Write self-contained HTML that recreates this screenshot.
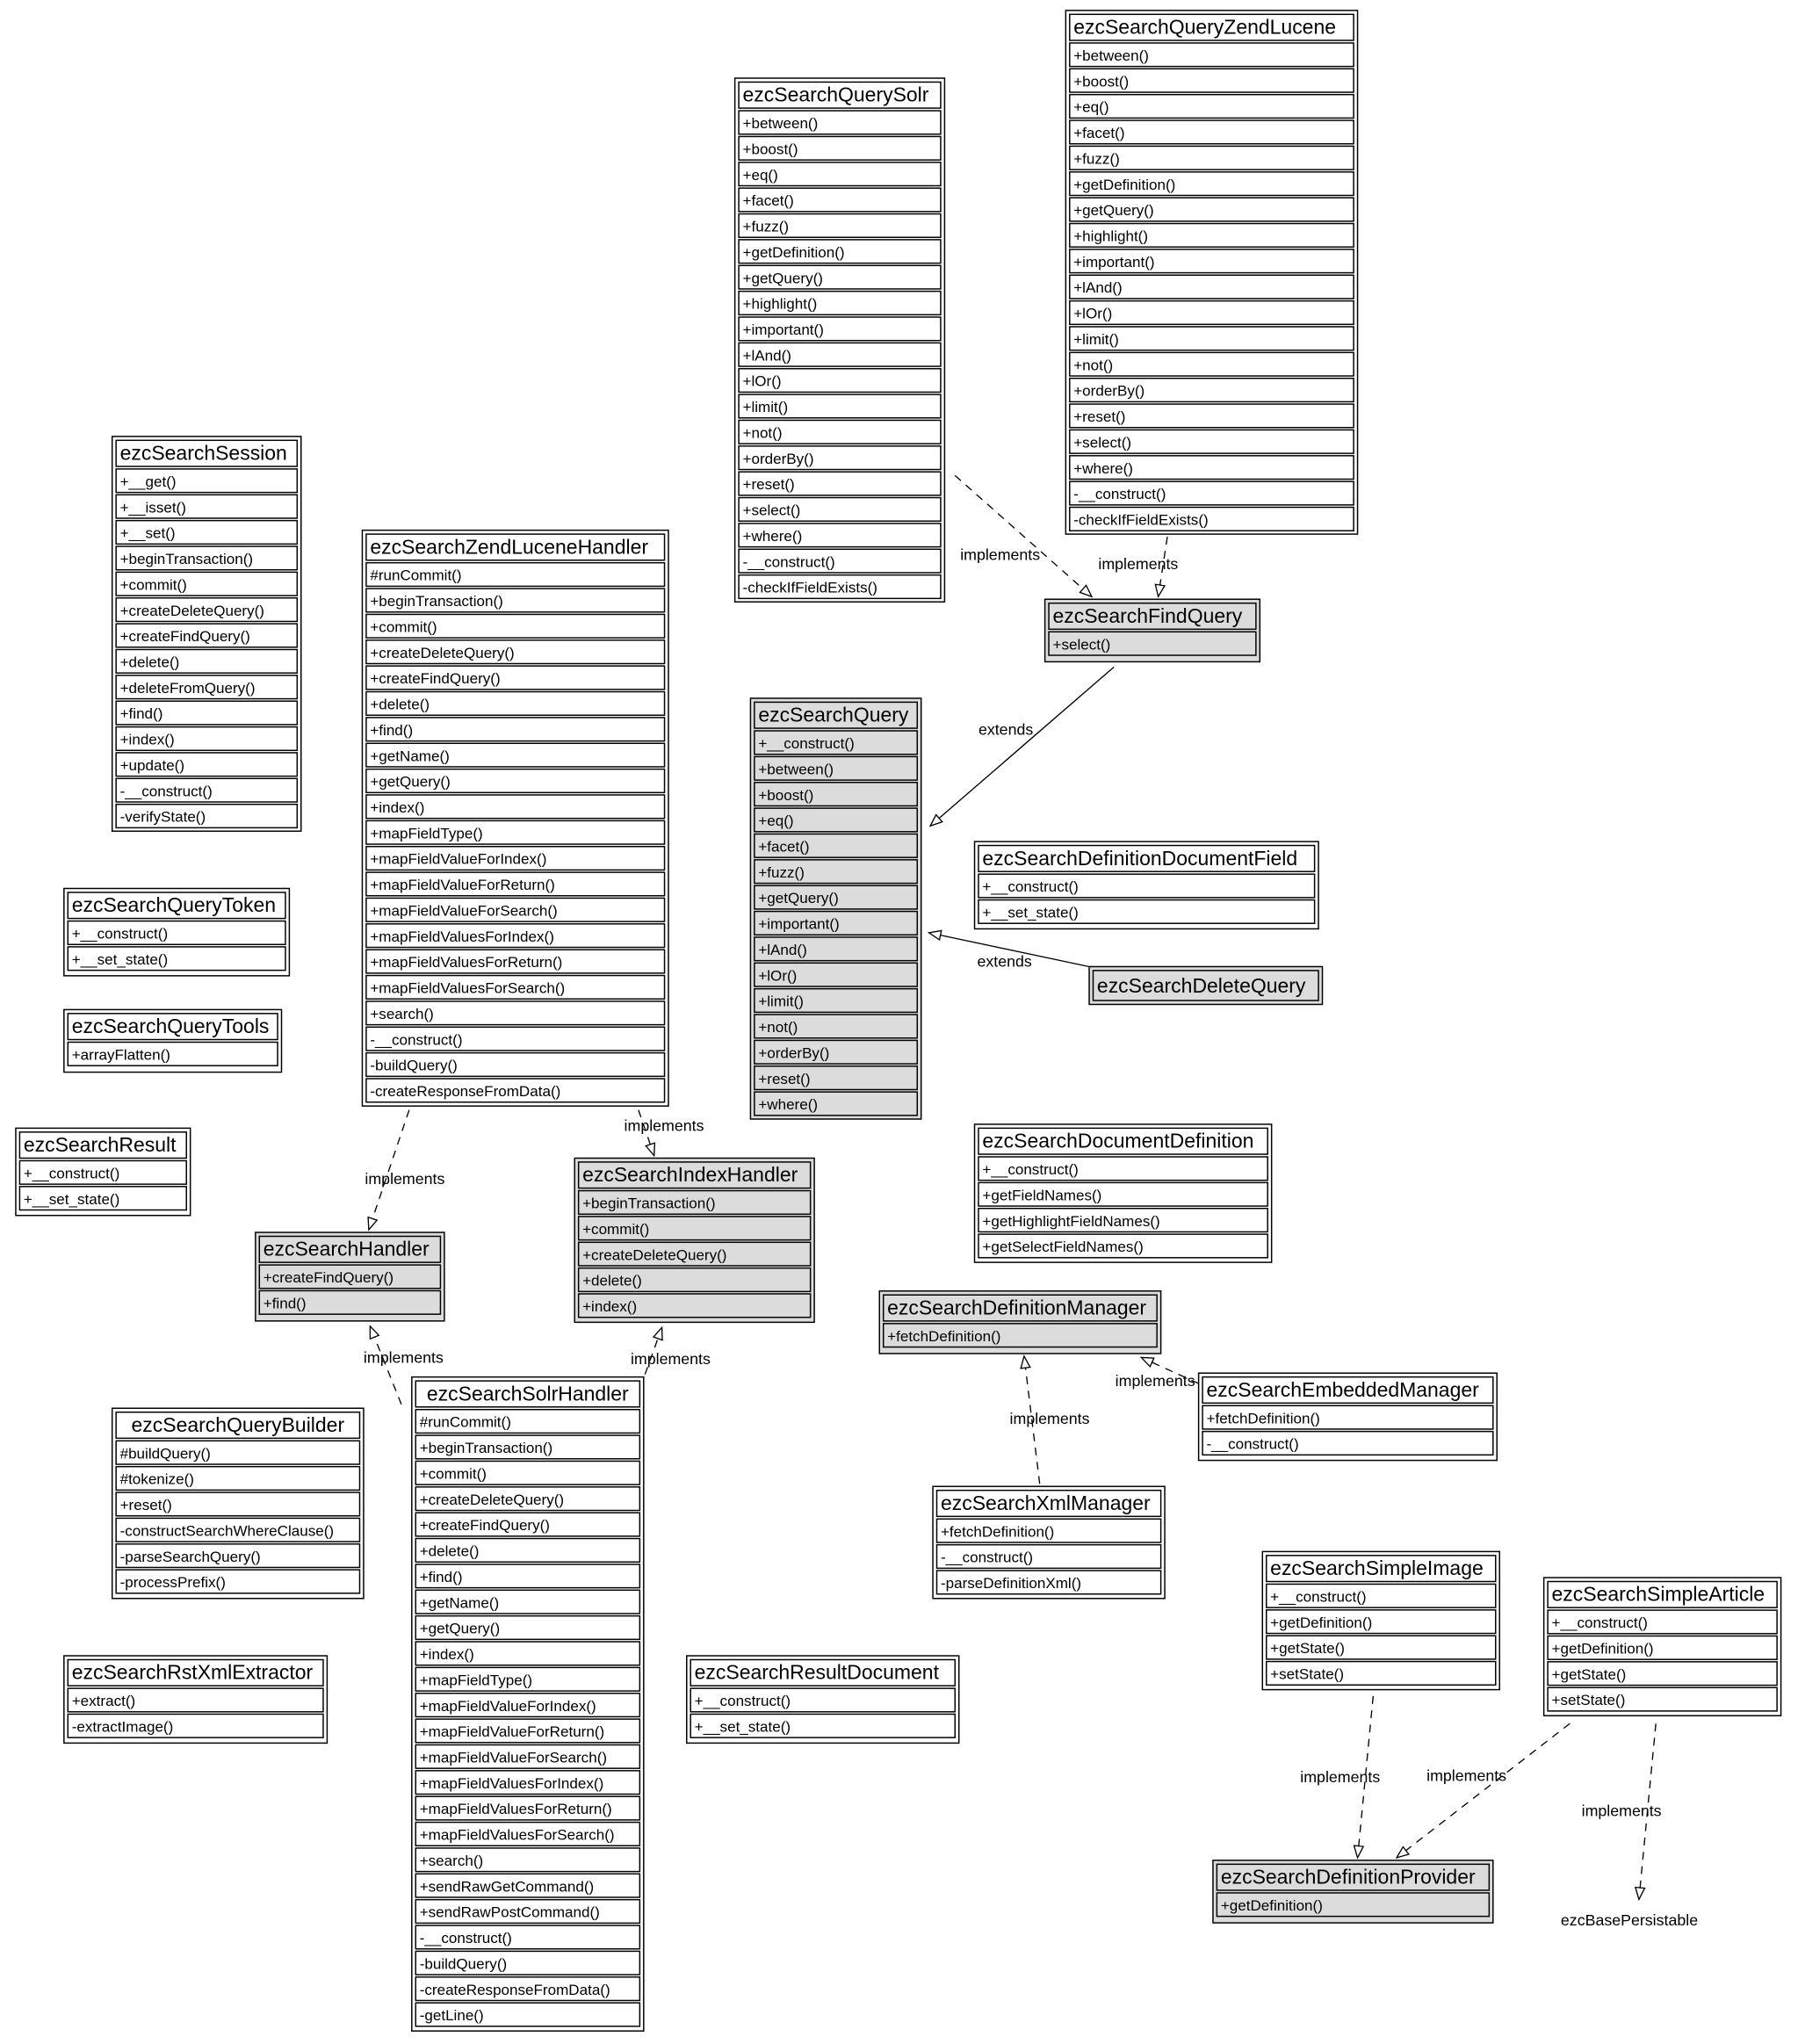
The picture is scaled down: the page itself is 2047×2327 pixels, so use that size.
<!DOCTYPE html>
<html><head><meta charset="utf-8"><style>
html,body{margin:0;padding:0;background:#fff;}
svg{display:block;}
text{font-family:"Liberation Sans",Arial,sans-serif;fill:#000;}
.h{font-size:15.5px;}
.m{font-size:11.5px;}
.l{font-size:12px;}
.o{fill:#fff;stroke:#000;stroke-width:1;}
.g .o{fill:#dcdcdc;}
.r{fill:#fff;stroke:#000;stroke-width:1;}
.g .r{fill:#dcdcdc;}
.e{fill:none;stroke:#000;stroke-width:0.9;}
.d{stroke-dasharray:6,5;}
</style></head><body>
<svg width="2047" height="2327" viewBox="0 0 1380 1569" xmlns="http://www.w3.org/2000/svg">
<defs><marker id="t" viewBox="0 0 12 10" refX="11" refY="5" markerWidth="11" markerHeight="9" orient="auto" markerUnits="userSpaceOnUse"><path d="M1,1 L11,5 L1,9 Z" fill="#fff" stroke="#000" stroke-width="1"/></marker></defs>

<!-- edges -->
<line class="e d" x1="733" y1="365" x2="838" y2="458" marker-end="url(#t)"/>
<line class="e d" x1="896" y1="412" x2="889" y2="458" marker-end="url(#t)"/>
<line class="e" x1="855" y1="512" x2="714" y2="634" marker-end="url(#t)"/>
<line class="e" x1="836" y1="742" x2="713" y2="716" marker-end="url(#t)"/>
<line class="e d" x1="314" y1="852" x2="283" y2="944" marker-end="url(#t)"/>
<line class="e d" x1="490" y1="852" x2="502" y2="887" marker-end="url(#t)"/>
<line class="e d" x1="308" y1="1078" x2="284" y2="1018" marker-end="url(#t)"/>
<line class="e d" x1="495" y1="1055" x2="508" y2="1019" marker-end="url(#t)"/>
<line class="e d" x1="798" y1="1139" x2="786" y2="1041" marker-end="url(#t)"/>
<line class="e d" x1="920" y1="1062" x2="876" y2="1042" marker-end="url(#t)"/>
<line class="e d" x1="1054" y1="1302" x2="1042" y2="1426" marker-end="url(#t)"/>
<line class="e d" x1="1205" y1="1323" x2="1072" y2="1426" marker-end="url(#t)"/>
<line class="e d" x1="1271" y1="1323" x2="1258" y2="1458" marker-end="url(#t)"/>
<text class="l" x="737" y="430">implements</text>
<text class="l" x="843" y="437">implements</text>
<text class="l" x="751" y="564">extends</text>
<text class="l" x="750" y="742">extends</text>
<text class="l" x="280" y="909">implements</text>
<text class="l" x="479" y="868">implements</text>
<text class="l" x="279" y="1046">implements</text>
<text class="l" x="484" y="1047">implements</text>
<text class="l" x="775" y="1093">implements</text>
<text class="l" x="856" y="1064">implements</text>
<text class="l" x="998" y="1368">implements</text>
<text class="l" x="1095" y="1367">implements</text>
<text class="l" x="1214" y="1394">implements</text>
<text class="l" x="1198" y="1478">ezcBasePersistable</text>

<!-- ezcSearchQueryZendLucene -->
<g transform="translate(818,8)"><rect class="o" x="0" y="0" width="224" height="402"/><rect class="r" x="3" y="3" width="218" height="20"/><text class="h" x="6" y="18">ezcSearchQueryZendLucene</text>
<rect class="r" x="3" y="25" width="218" height="18"/><text class="m" x="6" y="38.5">+between()</text>
<rect class="r" x="3" y="44.8" width="218" height="18"/><text class="m" x="6" y="58.3">+boost()</text>
<rect class="r" x="3" y="64.6" width="218" height="18"/><text class="m" x="6" y="78.1">+eq()</text>
<rect class="r" x="3" y="84.4" width="218" height="18"/><text class="m" x="6" y="97.9">+facet()</text>
<rect class="r" x="3" y="104.2" width="218" height="18"/><text class="m" x="6" y="117.7">+fuzz()</text>
<rect class="r" x="3" y="124" width="218" height="18"/><text class="m" x="6" y="137.5">+getDefinition()</text>
<rect class="r" x="3" y="143.8" width="218" height="18"/><text class="m" x="6" y="157.3">+getQuery()</text>
<rect class="r" x="3" y="163.6" width="218" height="18"/><text class="m" x="6" y="177.1">+highlight()</text>
<rect class="r" x="3" y="183.4" width="218" height="18"/><text class="m" x="6" y="196.9">+important()</text>
<rect class="r" x="3" y="203.2" width="218" height="18"/><text class="m" x="6" y="216.7">+lAnd()</text>
<rect class="r" x="3" y="223" width="218" height="18"/><text class="m" x="6" y="236.5">+lOr()</text>
<rect class="r" x="3" y="242.8" width="218" height="18"/><text class="m" x="6" y="256.3">+limit()</text>
<rect class="r" x="3" y="262.6" width="218" height="18"/><text class="m" x="6" y="276.1">+not()</text>
<rect class="r" x="3" y="282.4" width="218" height="18"/><text class="m" x="6" y="295.9">+orderBy()</text>
<rect class="r" x="3" y="302.2" width="218" height="18"/><text class="m" x="6" y="315.7">+reset()</text>
<rect class="r" x="3" y="322" width="218" height="18"/><text class="m" x="6" y="335.5">+select()</text>
<rect class="r" x="3" y="341.8" width="218" height="18"/><text class="m" x="6" y="355.3">+where()</text>
<rect class="r" x="3" y="361.6" width="218" height="18"/><text class="m" x="6" y="375.1">-__construct()</text>
<rect class="r" x="3" y="381.4" width="218" height="18"/><text class="m" x="6" y="394.9">-checkIfFieldExists()</text></g>

<!-- ezcSearchQuerySolr -->
<g transform="translate(564,60)"><rect class="o" x="0" y="0" width="161" height="402"/><rect class="r" x="3" y="3" width="155" height="20"/><text class="h" x="6" y="18">ezcSearchQuerySolr</text>
<rect class="r" x="3" y="25" width="155" height="18"/><text class="m" x="6" y="38.5">+between()</text>
<rect class="r" x="3" y="44.8" width="155" height="18"/><text class="m" x="6" y="58.3">+boost()</text>
<rect class="r" x="3" y="64.6" width="155" height="18"/><text class="m" x="6" y="78.1">+eq()</text>
<rect class="r" x="3" y="84.4" width="155" height="18"/><text class="m" x="6" y="97.9">+facet()</text>
<rect class="r" x="3" y="104.2" width="155" height="18"/><text class="m" x="6" y="117.7">+fuzz()</text>
<rect class="r" x="3" y="124" width="155" height="18"/><text class="m" x="6" y="137.5">+getDefinition()</text>
<rect class="r" x="3" y="143.8" width="155" height="18"/><text class="m" x="6" y="157.3">+getQuery()</text>
<rect class="r" x="3" y="163.6" width="155" height="18"/><text class="m" x="6" y="177.1">+highlight()</text>
<rect class="r" x="3" y="183.4" width="155" height="18"/><text class="m" x="6" y="196.9">+important()</text>
<rect class="r" x="3" y="203.2" width="155" height="18"/><text class="m" x="6" y="216.7">+lAnd()</text>
<rect class="r" x="3" y="223" width="155" height="18"/><text class="m" x="6" y="236.5">+lOr()</text>
<rect class="r" x="3" y="242.8" width="155" height="18"/><text class="m" x="6" y="256.3">+limit()</text>
<rect class="r" x="3" y="262.6" width="155" height="18"/><text class="m" x="6" y="276.1">+not()</text>
<rect class="r" x="3" y="282.4" width="155" height="18"/><text class="m" x="6" y="295.9">+orderBy()</text>
<rect class="r" x="3" y="302.2" width="155" height="18"/><text class="m" x="6" y="315.7">+reset()</text>
<rect class="r" x="3" y="322" width="155" height="18"/><text class="m" x="6" y="335.5">+select()</text>
<rect class="r" x="3" y="341.8" width="155" height="18"/><text class="m" x="6" y="355.3">+where()</text>
<rect class="r" x="3" y="361.6" width="155" height="18"/><text class="m" x="6" y="375.1">-__construct()</text>
<rect class="r" x="3" y="381.4" width="155" height="18"/><text class="m" x="6" y="394.9">-checkIfFieldExists()</text></g>

<!-- ezcSearchSession -->
<g transform="translate(86,335)"><rect class="o" x="0" y="0" width="145" height="303"/><rect class="r" x="3" y="3" width="139" height="20"/><text class="h" x="6" y="18">ezcSearchSession</text>
<rect class="r" x="3" y="25" width="139" height="18"/><text class="m" x="6" y="38.5">+__get()</text>
<rect class="r" x="3" y="44.8" width="139" height="18"/><text class="m" x="6" y="58.3">+__isset()</text>
<rect class="r" x="3" y="64.6" width="139" height="18"/><text class="m" x="6" y="78.1">+__set()</text>
<rect class="r" x="3" y="84.4" width="139" height="18"/><text class="m" x="6" y="97.9">+beginTransaction()</text>
<rect class="r" x="3" y="104.2" width="139" height="18"/><text class="m" x="6" y="117.7">+commit()</text>
<rect class="r" x="3" y="124" width="139" height="18"/><text class="m" x="6" y="137.5">+createDeleteQuery()</text>
<rect class="r" x="3" y="143.8" width="139" height="18"/><text class="m" x="6" y="157.3">+createFindQuery()</text>
<rect class="r" x="3" y="163.6" width="139" height="18"/><text class="m" x="6" y="177.1">+delete()</text>
<rect class="r" x="3" y="183.4" width="139" height="18"/><text class="m" x="6" y="196.9">+deleteFromQuery()</text>
<rect class="r" x="3" y="203.2" width="139" height="18"/><text class="m" x="6" y="216.7">+find()</text>
<rect class="r" x="3" y="223" width="139" height="18"/><text class="m" x="6" y="236.5">+index()</text>
<rect class="r" x="3" y="242.8" width="139" height="18"/><text class="m" x="6" y="256.3">+update()</text>
<rect class="r" x="3" y="262.6" width="139" height="18"/><text class="m" x="6" y="276.1">-__construct()</text>
<rect class="r" x="3" y="282.4" width="139" height="18"/><text class="m" x="6" y="295.9">-verifyState()</text></g>

<!-- ezcSearchZendLuceneHandler -->
<g transform="translate(278,407)"><rect class="o" x="0" y="0" width="235" height="442"/><rect class="r" x="3" y="3" width="229" height="20"/><text class="h" x="6" y="18">ezcSearchZendLuceneHandler</text>
<rect class="r" x="3" y="25" width="229" height="18"/><text class="m" x="6" y="38.5">#runCommit()</text>
<rect class="r" x="3" y="44.8" width="229" height="18"/><text class="m" x="6" y="58.3">+beginTransaction()</text>
<rect class="r" x="3" y="64.6" width="229" height="18"/><text class="m" x="6" y="78.1">+commit()</text>
<rect class="r" x="3" y="84.4" width="229" height="18"/><text class="m" x="6" y="97.9">+createDeleteQuery()</text>
<rect class="r" x="3" y="104.2" width="229" height="18"/><text class="m" x="6" y="117.7">+createFindQuery()</text>
<rect class="r" x="3" y="124" width="229" height="18"/><text class="m" x="6" y="137.5">+delete()</text>
<rect class="r" x="3" y="143.8" width="229" height="18"/><text class="m" x="6" y="157.3">+find()</text>
<rect class="r" x="3" y="163.6" width="229" height="18"/><text class="m" x="6" y="177.1">+getName()</text>
<rect class="r" x="3" y="183.4" width="229" height="18"/><text class="m" x="6" y="196.9">+getQuery()</text>
<rect class="r" x="3" y="203.2" width="229" height="18"/><text class="m" x="6" y="216.7">+index()</text>
<rect class="r" x="3" y="223" width="229" height="18"/><text class="m" x="6" y="236.5">+mapFieldType()</text>
<rect class="r" x="3" y="242.8" width="229" height="18"/><text class="m" x="6" y="256.3">+mapFieldValueForIndex()</text>
<rect class="r" x="3" y="262.6" width="229" height="18"/><text class="m" x="6" y="276.1">+mapFieldValueForReturn()</text>
<rect class="r" x="3" y="282.4" width="229" height="18"/><text class="m" x="6" y="295.9">+mapFieldValueForSearch()</text>
<rect class="r" x="3" y="302.2" width="229" height="18"/><text class="m" x="6" y="315.7">+mapFieldValuesForIndex()</text>
<rect class="r" x="3" y="322" width="229" height="18"/><text class="m" x="6" y="335.5">+mapFieldValuesForReturn()</text>
<rect class="r" x="3" y="341.8" width="229" height="18"/><text class="m" x="6" y="355.3">+mapFieldValuesForSearch()</text>
<rect class="r" x="3" y="361.6" width="229" height="18"/><text class="m" x="6" y="375.1">+search()</text>
<rect class="r" x="3" y="381.4" width="229" height="18"/><text class="m" x="6" y="394.9">-__construct()</text>
<rect class="r" x="3" y="401.2" width="229" height="18"/><text class="m" x="6" y="414.7">-buildQuery()</text>
<rect class="r" x="3" y="421" width="229" height="18"/><text class="m" x="6" y="434.5">-createResponseFromData()</text></g>

<!-- ezcSearchFindQuery -->
<g class="g" transform="translate(802,460)"><rect class="o" x="0" y="0" width="165" height="48"/><rect class="r" x="3" y="3" width="159" height="20"/><text class="h" x="6" y="18">ezcSearchFindQuery</text>
<rect class="r" x="3" y="25" width="159" height="18"/><text class="m" x="6" y="38.5">+select()</text></g>

<!-- ezcSearchQuery -->
<g class="g" transform="translate(576,536)"><rect class="o" x="0" y="0" width="131" height="323"/><rect class="r" x="3" y="3" width="125" height="20"/><text class="h" x="6" y="18">ezcSearchQuery</text>
<rect class="r" x="3" y="25" width="125" height="18"/><text class="m" x="6" y="38.5">+__construct()</text>
<rect class="r" x="3" y="44.8" width="125" height="18"/><text class="m" x="6" y="58.3">+between()</text>
<rect class="r" x="3" y="64.6" width="125" height="18"/><text class="m" x="6" y="78.1">+boost()</text>
<rect class="r" x="3" y="84.4" width="125" height="18"/><text class="m" x="6" y="97.9">+eq()</text>
<rect class="r" x="3" y="104.2" width="125" height="18"/><text class="m" x="6" y="117.7">+facet()</text>
<rect class="r" x="3" y="124" width="125" height="18"/><text class="m" x="6" y="137.5">+fuzz()</text>
<rect class="r" x="3" y="143.8" width="125" height="18"/><text class="m" x="6" y="157.3">+getQuery()</text>
<rect class="r" x="3" y="163.6" width="125" height="18"/><text class="m" x="6" y="177.1">+important()</text>
<rect class="r" x="3" y="183.4" width="125" height="18"/><text class="m" x="6" y="196.9">+lAnd()</text>
<rect class="r" x="3" y="203.2" width="125" height="18"/><text class="m" x="6" y="216.7">+lOr()</text>
<rect class="r" x="3" y="223" width="125" height="18"/><text class="m" x="6" y="236.5">+limit()</text>
<rect class="r" x="3" y="242.8" width="125" height="18"/><text class="m" x="6" y="256.3">+not()</text>
<rect class="r" x="3" y="262.6" width="125" height="18"/><text class="m" x="6" y="276.1">+orderBy()</text>
<rect class="r" x="3" y="282.4" width="125" height="18"/><text class="m" x="6" y="295.9">+reset()</text>
<rect class="r" x="3" y="302.2" width="125" height="18"/><text class="m" x="6" y="315.7">+where()</text></g>

<!-- ezcSearchDefinitionDocumentField -->
<g transform="translate(748,646)"><rect class="o" x="0" y="0" width="264" height="67"/><rect class="r" x="3" y="3" width="258" height="20"/><text class="h" x="6" y="18">ezcSearchDefinitionDocumentField</text>
<rect class="r" x="3" y="25" width="258" height="18"/><text class="m" x="6" y="38.5">+__construct()</text>
<rect class="r" x="3" y="44.8" width="258" height="18"/><text class="m" x="6" y="58.3">+__set_state()</text></g>

<!-- ezcSearchDeleteQuery -->
<g class="g" transform="translate(836,742)"><rect class="o" x="0" y="0" width="179" height="29"/><rect class="r" x="3" y="3" width="173" height="23"/><text class="h" x="6" y="20">ezcSearchDeleteQuery</text></g>

<!-- ezcSearchQueryToken -->
<g transform="translate(49,682)"><rect class="o" x="0" y="0" width="173" height="67"/><rect class="r" x="3" y="3" width="167" height="20"/><text class="h" x="6" y="18">ezcSearchQueryToken</text>
<rect class="r" x="3" y="25" width="167" height="18"/><text class="m" x="6" y="38.5">+__construct()</text>
<rect class="r" x="3" y="44.8" width="167" height="18"/><text class="m" x="6" y="58.3">+__set_state()</text></g>

<!-- ezcSearchQueryTools -->
<g transform="translate(49,775)"><rect class="o" x="0" y="0" width="167" height="48"/><rect class="r" x="3" y="3" width="161" height="20"/><text class="h" x="6" y="18">ezcSearchQueryTools</text>
<rect class="r" x="3" y="25" width="161" height="18"/><text class="m" x="6" y="38.5">+arrayFlatten()</text></g>

<!-- ezcSearchResult -->
<g transform="translate(12,866)"><rect class="o" x="0" y="0" width="134" height="67"/><rect class="r" x="3" y="3" width="128" height="20"/><text class="h" x="6" y="18">ezcSearchResult</text>
<rect class="r" x="3" y="25" width="128" height="18"/><text class="m" x="6" y="38.5">+__construct()</text>
<rect class="r" x="3" y="44.8" width="128" height="18"/><text class="m" x="6" y="58.3">+__set_state()</text></g>

<!-- ezcSearchHandler -->
<g class="g" transform="translate(196,946)"><rect class="o" x="0" y="0" width="145" height="68"/><rect class="r" x="3" y="3" width="139" height="20"/><text class="h" x="6" y="18">ezcSearchHandler</text>
<rect class="r" x="3" y="25" width="139" height="18"/><text class="m" x="6" y="38.5">+createFindQuery()</text>
<rect class="r" x="3" y="44.8" width="139" height="18"/><text class="m" x="6" y="58.3">+find()</text></g>

<!-- ezcSearchIndexHandler -->
<g class="g" transform="translate(441,889)"><rect class="o" x="0" y="0" width="184" height="126"/><rect class="r" x="3" y="3" width="178" height="20"/><text class="h" x="6" y="18">ezcSearchIndexHandler</text>
<rect class="r" x="3" y="25" width="178" height="18"/><text class="m" x="6" y="38.5">+beginTransaction()</text>
<rect class="r" x="3" y="44.8" width="178" height="18"/><text class="m" x="6" y="58.3">+commit()</text>
<rect class="r" x="3" y="64.6" width="178" height="18"/><text class="m" x="6" y="78.1">+createDeleteQuery()</text>
<rect class="r" x="3" y="84.4" width="178" height="18"/><text class="m" x="6" y="97.9">+delete()</text>
<rect class="r" x="3" y="104.2" width="178" height="18"/><text class="m" x="6" y="117.7">+index()</text></g>

<!-- ezcSearchDocumentDefinition -->
<g transform="translate(748,863)"><rect class="o" x="0" y="0" width="228" height="106"/><rect class="r" x="3" y="3" width="222" height="20"/><text class="h" x="6" y="18">ezcSearchDocumentDefinition</text>
<rect class="r" x="3" y="25" width="222" height="18"/><text class="m" x="6" y="38.5">+__construct()</text>
<rect class="r" x="3" y="44.8" width="222" height="18"/><text class="m" x="6" y="58.3">+getFieldNames()</text>
<rect class="r" x="3" y="64.6" width="222" height="18"/><text class="m" x="6" y="78.1">+getHighlightFieldNames()</text>
<rect class="r" x="3" y="84.4" width="222" height="18"/><text class="m" x="6" y="97.9">+getSelectFieldNames()</text></g>

<!-- ezcSearchDefinitionManager -->
<g class="g" transform="translate(675,991)"><rect class="o" x="0" y="0" width="216" height="48"/><rect class="r" x="3" y="3" width="210" height="20"/><text class="h" x="6" y="18">ezcSearchDefinitionManager</text>
<rect class="r" x="3" y="25" width="210" height="18"/><text class="m" x="6" y="38.5">+fetchDefinition()</text></g>

<!-- ezcSearchEmbeddedManager -->
<g transform="translate(920,1054)"><rect class="o" x="0" y="0" width="229" height="67"/><rect class="r" x="3" y="3" width="223" height="20"/><text class="h" x="6" y="18">ezcSearchEmbeddedManager</text>
<rect class="r" x="3" y="25" width="223" height="18"/><text class="m" x="6" y="38.5">+fetchDefinition()</text>
<rect class="r" x="3" y="44.8" width="223" height="18"/><text class="m" x="6" y="58.3">-__construct()</text></g>

<!-- ezcSearchXmlManager -->
<g transform="translate(716,1141)"><rect class="o" x="0" y="0" width="178" height="86"/><rect class="r" x="3" y="3" width="172" height="20"/><text class="h" x="6" y="18">ezcSearchXmlManager</text>
<rect class="r" x="3" y="25" width="172" height="18"/><text class="m" x="6" y="38.5">+fetchDefinition()</text>
<rect class="r" x="3" y="44.8" width="172" height="18"/><text class="m" x="6" y="58.3">-__construct()</text>
<rect class="r" x="3" y="64.6" width="172" height="18"/><text class="m" x="6" y="78.1">-parseDefinitionXml()</text></g>

<!-- ezcSearchQueryBuilder -->
<g transform="translate(86,1081)"><rect class="o" x="0" y="0" width="193" height="146"/><rect class="r" x="3" y="3" width="187" height="20"/><text class="h" x="96.5" y="18" text-anchor="middle">ezcSearchQueryBuilder</text>
<rect class="r" x="3" y="25" width="187" height="18"/><text class="m" x="6" y="38.5">#buildQuery()</text>
<rect class="r" x="3" y="44.8" width="187" height="18"/><text class="m" x="6" y="58.3">#tokenize()</text>
<rect class="r" x="3" y="64.6" width="187" height="18"/><text class="m" x="6" y="78.1">+reset()</text>
<rect class="r" x="3" y="84.4" width="187" height="18"/><text class="m" x="6" y="97.9">-constructSearchWhereClause()</text>
<rect class="r" x="3" y="104.2" width="187" height="18"/><text class="m" x="6" y="117.7">-parseSearchQuery()</text>
<rect class="r" x="3" y="124" width="187" height="18"/><text class="m" x="6" y="137.5">-processPrefix()</text></g>

<!-- ezcSearchSolrHandler -->
<g transform="translate(316,1057)"><rect class="o" x="0" y="0" width="178" height="502"/><rect class="r" x="3" y="3" width="172" height="20"/><text class="h" x="89" y="18" text-anchor="middle">ezcSearchSolrHandler</text>
<rect class="r" x="3" y="25" width="172" height="18"/><text class="m" x="6" y="38.5">#runCommit()</text>
<rect class="r" x="3" y="44.8" width="172" height="18"/><text class="m" x="6" y="58.3">+beginTransaction()</text>
<rect class="r" x="3" y="64.6" width="172" height="18"/><text class="m" x="6" y="78.1">+commit()</text>
<rect class="r" x="3" y="84.4" width="172" height="18"/><text class="m" x="6" y="97.9">+createDeleteQuery()</text>
<rect class="r" x="3" y="104.2" width="172" height="18"/><text class="m" x="6" y="117.7">+createFindQuery()</text>
<rect class="r" x="3" y="124" width="172" height="18"/><text class="m" x="6" y="137.5">+delete()</text>
<rect class="r" x="3" y="143.8" width="172" height="18"/><text class="m" x="6" y="157.3">+find()</text>
<rect class="r" x="3" y="163.6" width="172" height="18"/><text class="m" x="6" y="177.1">+getName()</text>
<rect class="r" x="3" y="183.4" width="172" height="18"/><text class="m" x="6" y="196.9">+getQuery()</text>
<rect class="r" x="3" y="203.2" width="172" height="18"/><text class="m" x="6" y="216.7">+index()</text>
<rect class="r" x="3" y="223" width="172" height="18"/><text class="m" x="6" y="236.5">+mapFieldType()</text>
<rect class="r" x="3" y="242.8" width="172" height="18"/><text class="m" x="6" y="256.3">+mapFieldValueForIndex()</text>
<rect class="r" x="3" y="262.6" width="172" height="18"/><text class="m" x="6" y="276.1">+mapFieldValueForReturn()</text>
<rect class="r" x="3" y="282.4" width="172" height="18"/><text class="m" x="6" y="295.9">+mapFieldValueForSearch()</text>
<rect class="r" x="3" y="302.2" width="172" height="18"/><text class="m" x="6" y="315.7">+mapFieldValuesForIndex()</text>
<rect class="r" x="3" y="322" width="172" height="18"/><text class="m" x="6" y="335.5">+mapFieldValuesForReturn()</text>
<rect class="r" x="3" y="341.8" width="172" height="18"/><text class="m" x="6" y="355.3">+mapFieldValuesForSearch()</text>
<rect class="r" x="3" y="361.6" width="172" height="18"/><text class="m" x="6" y="375.1">+search()</text>
<rect class="r" x="3" y="381.4" width="172" height="18"/><text class="m" x="6" y="394.9">+sendRawGetCommand()</text>
<rect class="r" x="3" y="401.2" width="172" height="18"/><text class="m" x="6" y="414.7">+sendRawPostCommand()</text>
<rect class="r" x="3" y="421" width="172" height="18"/><text class="m" x="6" y="434.5">-__construct()</text>
<rect class="r" x="3" y="440.8" width="172" height="18"/><text class="m" x="6" y="454.3">-buildQuery()</text>
<rect class="r" x="3" y="460.6" width="172" height="18"/><text class="m" x="6" y="474.1">-createResponseFromData()</text>
<rect class="r" x="3" y="480.4" width="172" height="18"/><text class="m" x="6" y="493.9">-getLine()</text></g>

<!-- ezcSearchRstXmlExtractor -->
<g transform="translate(49,1271)"><rect class="o" x="0" y="0" width="202" height="67"/><rect class="r" x="3" y="3" width="196" height="20"/><text class="h" x="6" y="18">ezcSearchRstXmlExtractor</text>
<rect class="r" x="3" y="25" width="196" height="18"/><text class="m" x="6" y="38.5">+extract()</text>
<rect class="r" x="3" y="44.8" width="196" height="18"/><text class="m" x="6" y="58.3">-extractImage()</text></g>

<!-- ezcSearchResultDocument -->
<g transform="translate(527,1271)"><rect class="o" x="0" y="0" width="209" height="67"/><rect class="r" x="3" y="3" width="203" height="20"/><text class="h" x="6" y="18">ezcSearchResultDocument</text>
<rect class="r" x="3" y="25" width="203" height="18"/><text class="m" x="6" y="38.5">+__construct()</text>
<rect class="r" x="3" y="44.8" width="203" height="18"/><text class="m" x="6" y="58.3">+__set_state()</text></g>

<!-- ezcSearchSimpleImage -->
<g transform="translate(969,1191)"><rect class="o" x="0" y="0" width="182" height="106"/><rect class="r" x="3" y="3" width="176" height="20"/><text class="h" x="6" y="18">ezcSearchSimpleImage</text>
<rect class="r" x="3" y="25" width="176" height="18"/><text class="m" x="6" y="38.5">+__construct()</text>
<rect class="r" x="3" y="44.8" width="176" height="18"/><text class="m" x="6" y="58.3">+getDefinition()</text>
<rect class="r" x="3" y="64.6" width="176" height="18"/><text class="m" x="6" y="78.1">+getState()</text>
<rect class="r" x="3" y="84.4" width="176" height="18"/><text class="m" x="6" y="97.9">+setState()</text></g>

<!-- ezcSearchSimpleArticle -->
<g transform="translate(1185,1211)"><rect class="o" x="0" y="0" width="182" height="106"/><rect class="r" x="3" y="3" width="176" height="20"/><text class="h" x="6" y="18">ezcSearchSimpleArticle</text>
<rect class="r" x="3" y="25" width="176" height="18"/><text class="m" x="6" y="38.5">+__construct()</text>
<rect class="r" x="3" y="44.8" width="176" height="18"/><text class="m" x="6" y="58.3">+getDefinition()</text>
<rect class="r" x="3" y="64.6" width="176" height="18"/><text class="m" x="6" y="78.1">+getState()</text>
<rect class="r" x="3" y="84.4" width="176" height="18"/><text class="m" x="6" y="97.9">+setState()</text></g>

<!-- ezcSearchDefinitionProvider -->
<g class="g" transform="translate(931,1428)"><rect class="o" x="0" y="0" width="215" height="48"/><rect class="r" x="3" y="3" width="209" height="20"/><text class="h" x="6" y="18">ezcSearchDefinitionProvider</text>
<rect class="r" x="3" y="25" width="209" height="18"/><text class="m" x="6" y="38.5">+getDefinition()</text></g>
</svg>
</body></html>
